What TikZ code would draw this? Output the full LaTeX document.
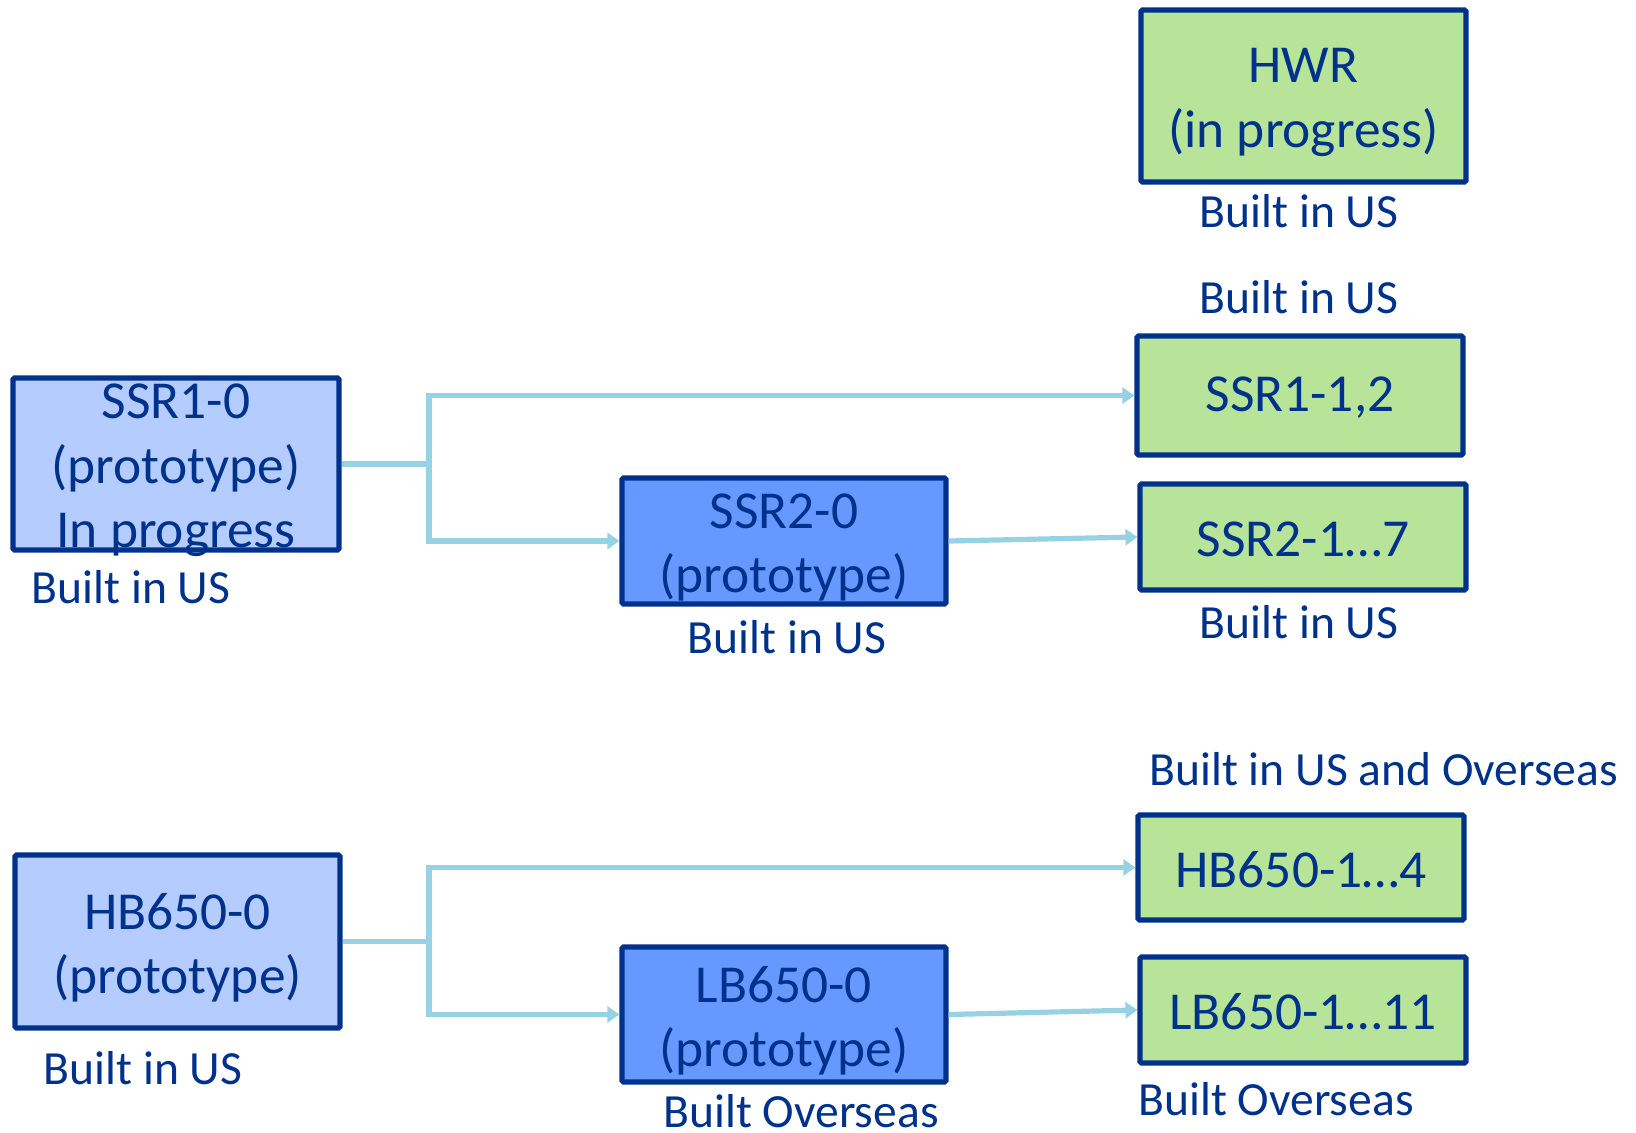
\documentclass[tikz,border=0pt]{standalone}
\usepackage{fontspec}
\setmainfont{Carlito}
\usetikzlibrary{arrows.meta}
\definecolor{navy}{RGB}{0,50,140}
\definecolor{lblue}{RGB}{180,204,255}
\definecolor{mblue}{RGB}{102,153,255}
\definecolor{lgreen}{RGB}{183,228,153}
\definecolor{conn}{RGB}{150,210,228}
\begin{document}
\begin{tikzpicture}[x=0.5pt,y=-0.5pt,
 bx/.style 2 args={draw=navy, line width=2.6pt, rounded corners=0.8pt, minimum width=#1*0.5pt, minimum height=#2*0.5pt, inner sep=0pt},
 btext/.style={text=navy, align=center, font=\fontsize{26.7}{32.3}\selectfont, inner sep=0pt},
 lbl/.style={text=navy, font=\fontsize{23.8}{28}\selectfont, inner sep=0pt, anchor=base},
 wire/.style={draw=conn, line width=2.6pt},
 arr/.style={wire, -{Triangle[length=6pt,width=8pt]}},
]
\useasboundingbox (0,0) rectangle (1636,1133);

% boxes
\node[bx={325}{172}, fill=lgreen] (hwr) at (1303.5,96) {};
\node[btext] (hwrt) at ([yshift=-3.2pt]hwr.center) {HWR\\(in progress)};

\node[bx={326}{119}, fill=lgreen] (ssr112) at (1300,395.5) {};
\node[btext] (ssr112t) at ([yshift=-1pt]ssr112.center) {SSR1-1,2};

\node[bx={326}{106}, fill=lgreen] (ssr217) at (1303,537) {};
\node[btext] (ssr217t) at ([yshift=-1pt]ssr217.center) {SSR2-1…7};

\node[bx={326}{172}, fill=lblue] (ssr10) at (176,464) {};
\node[btext] (ssr10t) at ([yshift=-3.2pt]ssr10.center) {SSR1-0\\(prototype)\\In progress};

\node[bx={324}{126}, fill=mblue] (ssr20) at (784,541) {};
\node[btext] (ssr20t) at ([yshift=-3.2pt]ssr20.center) {SSR2-0\\(prototype)};

\node[bx={326}{105}, fill=lgreen] (hb14) at (1301,867.5) {};
\node[btext] (hb14t) at ([yshift=-1pt]hb14.center) {HB650-1…4};

\node[bx={326}{106}, fill=lgreen] (lb111) at (1303,1010) {};
\node[btext] (lb111t) at ([yshift=-1pt]lb111.center) {LB650-1…11};

\node[bx={325}{173}, fill=lblue] (hb0) at (177.5,941.5) {};
\node[btext] (hb0t) at ([yshift=-3.2pt]hb0.center) {HB650-0\\(prototype)};

\node[bx={324}{135}, fill=mblue] (lb0) at (784,1014.5) {};
\node[btext] (lb0t) at ([yshift=-3.2pt]lb0.center) {LB650-0\\(prototype)};

% labels
\node[lbl] (l1) at (1299,228) {Built in US};
\node[lbl] (l2) at (1299,314) {Built in US};
\node[lbl] (l3) at (1299,638) {Built in US};
\node[lbl] (l4) at (131,603) {Built in US};
\node[lbl] (l5) at (787,653) {Built in US};
\node[lbl, anchor=base west] (l6) at (1149,785) {Built in US and Overseas};
\node[lbl] (l7) at (143,1084) {Built in US};
\node[lbl] (l8) at (801,1127) {Built Overseas};
\node[lbl, anchor=base west] (l9) at (1138,1115) {Built Overseas};

% connectors
\coordinate (j1) at (429,464);
\draw[wire] (ssr10.east) -- (j1);
\draw[arr] (j1) |- (ssr112.west);
\draw[arr] (j1) |- (ssr20.west);
\draw[arr] (ssr20.east) -- (ssr217.west);

\coordinate (j2) at (429,941.5);
\draw[wire] (hb0.east) -- (j2);
\draw[arr] (j2) |- (hb14.west);
\draw[arr] (j2) |- (lb0.west);
\draw[arr] (lb0.east) -- (lb111.west);
\end{tikzpicture}
\end{document}
